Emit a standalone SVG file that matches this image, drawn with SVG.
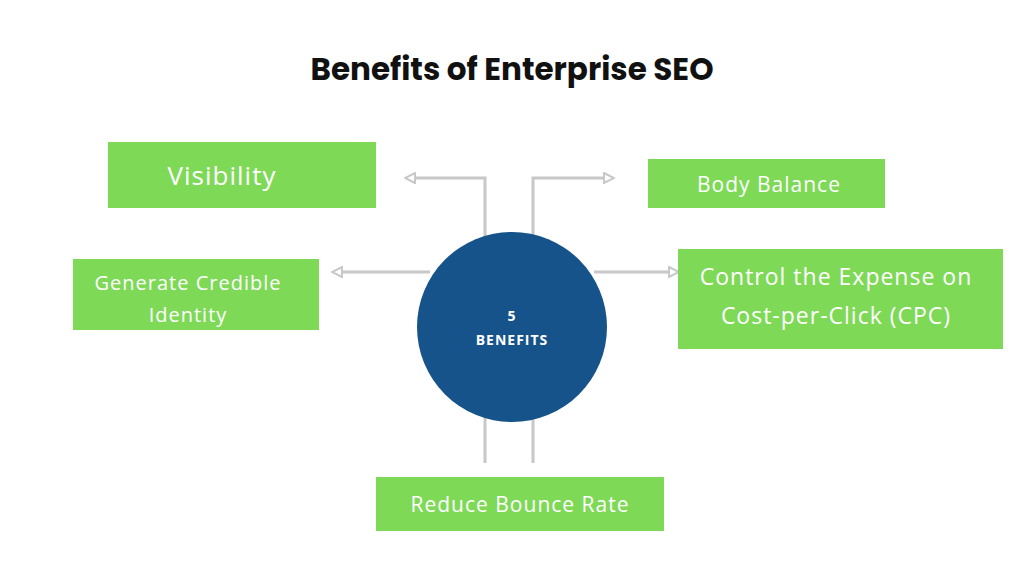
<svg xmlns="http://www.w3.org/2000/svg" width="1024" height="576" viewBox="0 0 1024 576">
<style>
.box{fill:#7ED957}
.t{font-family:"Open Sans","Liberation Sans",sans-serif;fill:#fff;text-anchor:middle}
.c{stroke:#c8c8c8;stroke-width:3;fill:none}
</style>
<defs><marker id="a" viewBox="0 0 12 12" refX="10" refY="6" markerWidth="12" markerHeight="12" markerUnits="userSpaceOnUse" orient="auto"><path d="M1,1 L11,6 L1,11 Z" fill="#fff" stroke="#c8c8c8" stroke-width="2"/></marker></defs>
<rect width="1024" height="576" fill="#fff"/>
<text x="512" y="80" font-family="Poppins,'Open Sans','Liberation Sans',sans-serif" font-weight="bold" font-size="31" text-anchor="middle" fill="#111">Benefits of Enterprise SEO</text>
<g id="connectors">
<path class="c" d="M485,237 V178 H406" marker-end="url(#a)"/>
<path class="c" d="M533,237 V178 H613" marker-end="url(#a)"/>
<path class="c" d="M430,272 H333" marker-end="url(#a)"/>
<path class="c" d="M594,272 H678" marker-end="url(#a)"/>
<path class="c" d="M485,418 V463 M533,418 V463"/>
</g>
<g id="center"><circle cx="512" cy="327" r="95" fill="#16538A"/>
<text class="t" x="512" y="321" font-size="14" font-weight="bold" letter-spacing="1">5</text>
<text class="t" x="512" y="345" font-size="14" font-weight="bold" letter-spacing="1">BENEFITS</text></g>
<g id="visibility"><rect class="box" x="108" y="142" width="268" height="66"/><text class="t" x="222" y="185" font-size="26" letter-spacing="1">Visibility</text></g>
<g id="body"><rect class="box" x="648" y="159" width="237" height="49"/><text class="t" x="769" y="192" font-size="21" letter-spacing="1">Body Balance</text></g>
<g id="credible"><rect class="box" x="73" y="259" width="246" height="71"/><text class="t" x="188" y="290" font-size="20" letter-spacing="1">Generate Credible</text><text class="t" x="188" y="322" font-size="20" letter-spacing="1">Identity</text></g>
<g id="cpc"><rect class="box" x="678" y="249" width="325" height="100"/><text class="t" x="836" y="285" font-size="23" letter-spacing="1">Control the Expense on</text><text class="t" x="836" y="324" font-size="23" letter-spacing="1">Cost-per-Click (CPC)</text></g>
<g id="bounce"><rect class="box" x="376" y="477" width="288" height="54"/><text class="t" x="520" y="512" font-size="21" letter-spacing="1">Reduce Bounce Rate</text></g>
</svg>
